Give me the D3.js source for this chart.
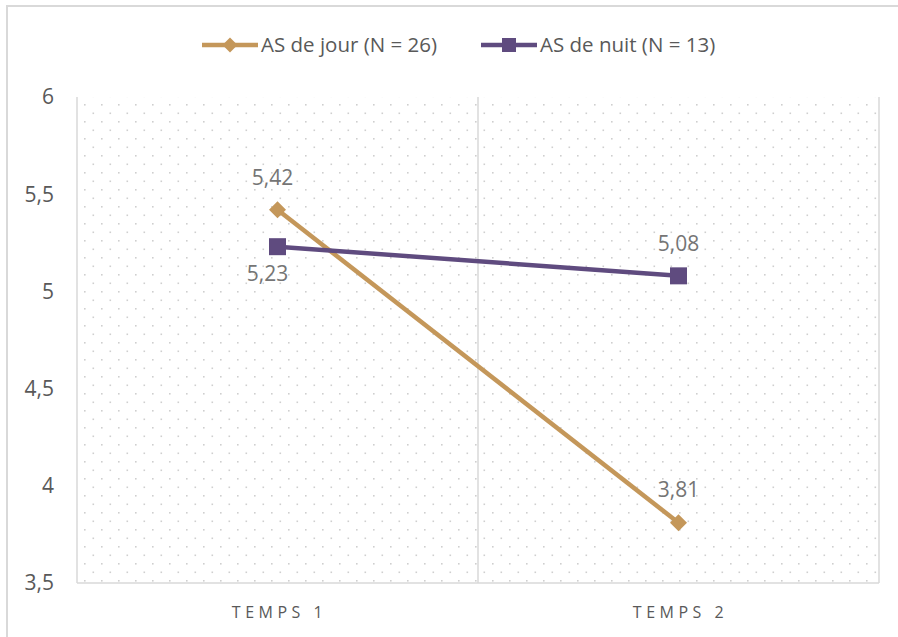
<!DOCTYPE html>
<html>
<head>
<meta charset="utf-8">
<script src="https://cdn.jsdelivr.net/npm/d3@7"></script>
<style>
  body { margin: 0; background: #fff; }
  text { font-family: "Open Sans", "Liberation Sans", sans-serif; }
</style>
</head>
<body>
<svg id="chart" width="898" height="637"></svg>
<script>
var categories = ["TEMPS 1", "TEMPS 2"];
var seriesNames = ["AS de jour (N = 26)", "AS de nuit (N = 13)"];
var jourValues = [5.42, 3.81];
var nuitValues = [5.23, 5.08];
var yTicks = [3.5, 4, 4.5, 5, 5.5, 6];
var colors = ["#C4975A", "#5F4B7F"];

var svg = d3.select("#chart");
var margin = {left: 77, top: 97, right: 19, bottom: 54};
var W = 898, H = 637;
var plotW = W - margin.left - margin.right;
var plotH = H - margin.top - margin.bottom;

// outer frame (runs off right/bottom like the original)
svg.append("rect")
    .attr("x", 7).attr("y", 6)
    .attr("width", W + 10).attr("height", H + 10)
    .attr("fill", "none")
    .attr("stroke", "#d9d9d9")
    .attr("stroke-width", 2);

// dotted background
var defs = svg.append("defs");
var pat = defs.append("pattern")
    .attr("id", "dots")
    .attr("patternUnits", "userSpaceOnUse")
    .attr("x", margin.left).attr("y", margin.top)
    .attr("width", 17).attr("height", 17);
pat.append("rect").attr("x", 6.5).attr("y", 3.5).attr("width", 1.6).attr("height", 1.6).attr("fill", "#cfcfcf");
pat.append("rect").attr("x", 15).attr("y", 12).attr("width", 1.6).attr("height", 1.6).attr("fill", "#cfcfcf");

var g = svg.append("g").attr("transform", "translate(" + margin.left + "," + margin.top + ")");

g.append("rect")
    .attr("width", plotW).attr("height", plotH)
    .attr("fill", "url(#dots)");

var x = d3.scaleBand().domain(categories).range([0, plotW]);
var y = d3.scaleLinear().domain([3.5, 6]).range([plotH, 0]);
var fmt = function(v){ return String(v).replace(".", ","); };

// separators / borders
var seps = [0, plotW / 2, plotW];
g.selectAll(".sep").data(seps).enter().append("line")
    .attr("x1", function(d){ return d; }).attr("x2", function(d){ return d; })
    .attr("y1", 0).attr("y2", plotH)
    .attr("stroke", "#d9d9d9").attr("stroke-width", 1.5);
g.append("line")
    .attr("x1", 0).attr("x2", plotW)
    .attr("y1", plotH).attr("y2", plotH)
    .attr("stroke", "#d9d9d9").attr("stroke-width", 1.5);

// y axis labels
g.selectAll(".ytick").data(yTicks).enter().append("text")
    .attr("x", -23)
    .attr("y", function(d){ return y(d); })
    .attr("dy", "0.35em")
    .attr("text-anchor", "end")
    .attr("fill", "#595959")
    .attr("font-size", 21)
    .text(fmt);

// x category labels
g.selectAll(".xtick").data(categories).enter().append("text")
    .attr("x", function(d){ return x(d) + x.bandwidth() / 2 + 2; })
    .attr("y", plotH + 35)
    .attr("text-anchor", "middle")
    .attr("fill", "#595959")
    .attr("font-size", 16)
    .attr("letter-spacing", "4.5px")
    .text(function(d){ return d; });

var line = d3.line()
    .x(function(d, i){ return x(categories[i]) + x.bandwidth() / 2; })
    .y(function(d){ return y(d); });

var series = [
    {name: seriesNames[0], values: jourValues, color: colors[0], shape: "diamond"},
    {name: seriesNames[1], values: nuitValues, color: colors[1], shape: "square"}
];

function marker(shape, r) {
    if (shape == "diamond") return "M0," + (-r) + "L" + r + ",0L0," + r + "L" + (-r) + ",0Z";
    return "M" + (-r) + "," + (-r) + "H" + r + "V" + r + "H" + (-r) + "Z";
}

series.forEach(function(s){
    g.append("path")
        .datum(s.values)
        .attr("d", line)
        .attr("fill", "none")
        .attr("stroke", s.color)
        .attr("stroke-width", 4.5);
});

series.forEach(function(s){
    g.selectAll(".pt-" + s.shape).data(s.values).enter().append("path")
        .attr("transform", function(d, i){
            return "translate(" + (x(categories[i]) + x.bandwidth() / 2) + "," + y(d) + ")";
        })
        .attr("d", marker(s.shape, s.shape == "diamond" ? 8.5 : 8.5))
        .attr("fill", s.color);
});

// data labels: jour above, nuit t1 below, nuit t2 above
var labelOffsets = {jour: [[-5, -32], [0, -33]], nuit: [[-10, 27], [0, -32]]};
series.forEach(function(s, k){
    var off = k == 0 ? labelOffsets.jour : labelOffsets.nuit;
    g.selectAll(".lbl" + k).data(s.values).enter().append("text")
        .attr("x", function(d, i){ return x(categories[i]) + x.bandwidth() / 2 + off[i][0]; })
        .attr("y", function(d, i){ return y(d) + off[i][1]; })
        .attr("dy", "0.35em")
        .attr("text-anchor", "middle")
        .attr("fill", "#757575")
        .attr("font-size", 21)
        .text(fmt);
});

// legend
var legend = svg.append("g").attr("transform", "translate(0,45)");
var legX = [202, 481];
series.forEach(function(s, k){
    var lg = legend.append("g").attr("transform", "translate(" + legX[k] + ",0)");
    lg.append("line").attr("x1", 0).attr("x2", 56).attr("y1", 0).attr("y2", 0)
        .attr("stroke", s.color).attr("stroke-width", 4.5);
    lg.append("path").attr("transform", "translate(28,0)")
        .attr("d", marker(s.shape, s.shape == "diamond" ? 7.5 : 7))
        .attr("fill", s.color);
    lg.append("text").attr("x", 59).attr("dy", "0.35em")
        .attr("fill", "#595959").attr("font-size", 20.5)
        .text(s.name);
});
</script>
</body>
</html>
